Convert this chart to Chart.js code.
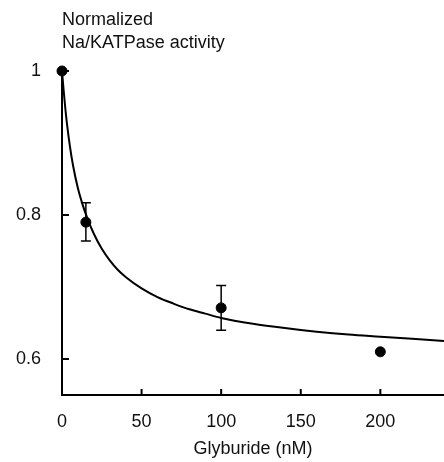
<!DOCTYPE html>
<html>
<head>
<meta charset="utf-8">
<script src="https://cdn.jsdelivr.net/npm/chart.js@4.4.1/dist/chart.umd.min.js"></script>
<style>
  html, body { margin: 0; padding: 0; background: #fff; }
  #wrap { width: 444px; height: 462px; }
</style>
</head>
<body>
<div id="wrap"><canvas id="glyChart" width="444" height="462"></canvas></div>
<script>
// measured points (Glyburide nM vs normalized activity)
var doseNM = [0, 15, 100, 200];
var activity = [1.0, 0.79, 0.671, 0.61];
var errLow = [1.0, 0.764, 0.640, 0.61];
var errHigh = [1.0, 0.817, 0.702, 0.61];

// fitted curve
var curveX = [0, 1, 2, 3, 5, 7, 10, 13, 16, 20, 25, 30, 35, 40, 50, 60, 70, 80, 90, 100, 120, 140, 160, 180, 200, 220, 240];
var curveY = [1.0, 0.974, 0.950, 0.929, 0.895, 0.868, 0.837, 0.814, 0.795, 0.774, 0.753, 0.737, 0.724, 0.714, 0.698, 0.686, 0.677, 0.669, 0.663, 0.657, 0.649, 0.643, 0.638, 0.634, 0.631, 0.628, 0.625];

var xTicks = [0, 50, 100, 150, 200];
var yTicks = [0.6, 0.8, 1];

var FONT = '"Liberation Sans", Arial, Helvetica, sans-serif';

// error bars + inward ticks + top y-axis caption
var extrasPlugin = {
    id: 'extras',
    afterDatasetsDraw: function(chart) {
        var ctx = chart.ctx;
        var xs = chart.scales.x, ys = chart.scales.y;
        ctx.save();
        ctx.strokeStyle = '#000';
        ctx.lineWidth = 1.5;
        for (var i = 0; i < doseNM.length; i++) {
            if (errHigh[i] === errLow[i]) continue;
            var px = xs.getPixelForValue(doseNM[i]);
            var top = ys.getPixelForValue(errHigh[i]);
            var bot = ys.getPixelForValue(errLow[i]);
            ctx.beginPath();
            ctx.moveTo(px, top); ctx.lineTo(px, bot);
            ctx.moveTo(px - 5, top); ctx.lineTo(px + 5, top);
            ctx.moveTo(px - 5, bot); ctx.lineTo(px + 5, bot);
            ctx.stroke();
        }
        // inward ticks
        ctx.lineWidth = 2;
        var area = chart.chartArea;
        xTicks.forEach(function(v) {
            if (v === 0) return;
            var px = xs.getPixelForValue(v);
            ctx.beginPath();
            ctx.moveTo(px, area.bottom); ctx.lineTo(px, area.bottom - 6);
            ctx.stroke();
        });
        yTicks.forEach(function(v) {
            var py = ys.getPixelForValue(v);
            ctx.beginPath();
            ctx.moveTo(area.left, py); ctx.lineTo(area.left + 7, py);
            ctx.stroke();
        });
        // y-axis caption at the top
        ctx.fillStyle = '#111';
        ctx.font = '18px ' + FONT;
        ctx.textAlign = 'left';
        ctx.textBaseline = 'alphabetic';
        ctx.fillText('Normalized', area.left, 25);
        ctx.fillText('Na/KATPase activity', area.left, 48);
        ctx.restore();
    }
};

var glyCtx = document.getElementById('glyChart').getContext('2d');
var glyChart = new Chart(glyCtx, {
    type: 'scatter',
    data: {
        datasets: [{
            label: 'Fit',
            type: 'line',
            data: curveX.map(function(x, i) { return { x: x, y: curveY[i] }; }),
            borderColor: '#000',
            borderWidth: 2,
            pointRadius: 0,
            fill: false,
            cubicInterpolationMode: 'monotone',
            clip: false
        }, {
            label: 'Measured',
            data: doseNM.map(function(x, i) { return { x: x, y: activity[i] }; }),
            backgroundColor: '#000',
            borderColor: '#000',
            pointRadius: 5,
            clip: false
        }]
    },
    options: {
        responsive: false,
        animation: false,
        layout: { autoPadding: false, padding: { top: 71, right: 0, left: 0, bottom: 0 } },
        plugins: {
            legend: { display: false },
            tooltip: { enabled: false }
        },
        scales: {
            x: {
                type: 'linear',
                min: 0,
                max: 240,
                afterBuildTicks: function(scale) {
                    scale.ticks = xTicks.map(function(v) { return { value: v }; });
                },
                afterFit: function(scale) {
                    scale.height = 67;
                    scale.paddingRight = 0;
                    scale.paddingLeft = 0;
                },
                grid: { display: true, drawOnChartArea: false, drawTicks: false },
                border: { display: true, color: '#000', width: 2 },
                ticks: {
                    color: '#111',
                    padding: 16,
                    maxRotation: 0,
                    font: { family: FONT, size: 18 }
                },
                title: {
                    display: true,
                    text: 'Glyburide (nM)',
                    color: '#111',
                    font: { family: FONT, size: 18 },
                    padding: { top: 6, bottom: 2 }
                }
            },
            y: {
                type: 'linear',
                min: 0.55,
                max: 1.0,
                afterBuildTicks: function(scale) {
                    scale.ticks = yTicks.map(function(v) { return { value: v }; });
                },
                afterFit: function(scale) { scale.width = 62; },
                grid: { display: true, drawOnChartArea: false, drawTicks: false },
                border: { display: true, color: '#000', width: 2 },
                ticks: {
                    color: '#111',
                    padding: 21,
                    font: { family: FONT, size: 18 },
                    callback: function(v) { return String(v); }
                }
            }
        }
    },
    plugins: [extrasPlugin]
});
</script>
</body>
</html>
